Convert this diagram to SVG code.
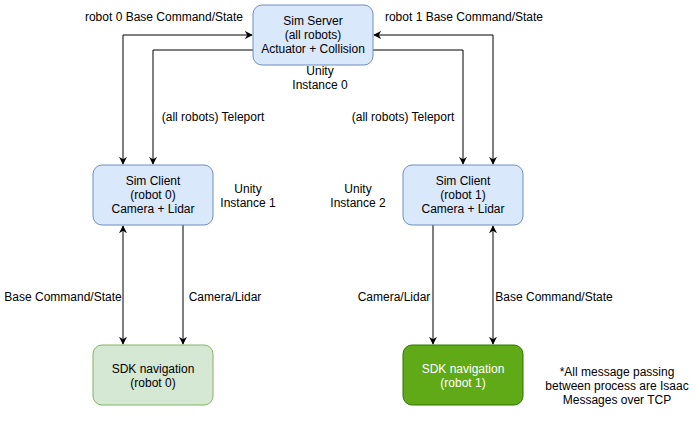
<svg xmlns="http://www.w3.org/2000/svg" width="699" height="421" viewBox="0 0 699 421">
<style>
text{font-family:"Liberation Sans",Arial,sans-serif;font-size:12px;fill:#000;text-anchor:middle}
.blue{fill:#dae8fc;stroke:#6c8ebf;stroke-width:1}
.green{fill:#d5e8d4;stroke:#82b366;stroke-width:1}
.dg{fill:#60a917;stroke:#2d7600;stroke-width:1}
.w{fill:#ffffff}
.c{fill:none;stroke:#000;stroke-width:1}
</style>
<defs>
<marker id="a" viewBox="0 0 10 10" refX="9" refY="5" markerWidth="8" markerHeight="8" orient="auto-start-reverse" markerUnits="userSpaceOnUse">
<path d="M0,0 L10,5 L0,10 L3,5 Z" fill="#000"/>
</marker>
</defs>
<rect width="699" height="421" fill="#fff"/>
<g id="connectors">
<path class="c" d="M123,164 V35 H252" marker-start="url(#a)" marker-end="url(#a)"/>
<path class="c" d="M253,50 H153 V164" marker-end="url(#a)"/>
<path class="c" d="M493,164 V35 H374" marker-start="url(#a)" marker-end="url(#a)"/>
<path class="c" d="M373,50 H463 V164" marker-end="url(#a)"/>
<path class="c" d="M123,226 V344" marker-start="url(#a)" marker-end="url(#a)"/>
<path class="c" d="M183,225 V344" marker-end="url(#a)"/>
<path class="c" d="M433,225 V344" marker-end="url(#a)"/>
<path class="c" d="M493,226 V344" marker-start="url(#a)" marker-end="url(#a)"/>
</g>
<g id="labels">
<text x="164" y="21">robot 0 Base Command/State</text>
<text x="464" y="21">robot 1 Base Command/State</text>
<text x="320" y="75">Unity</text>
<text x="320" y="89">Instance 0</text>
<text x="213" y="121">(all robots) Teleport</text>
<text x="403" y="121">(all robots) Teleport</text>
<text x="248" y="193">Unity</text>
<text x="248" y="207">Instance 1</text>
<text x="358" y="193">Unity</text>
<text x="358" y="207">Instance 2</text>
<text x="63" y="301">Base Command/State</text>
<text x="225" y="301">Camera/Lidar</text>
<text x="394" y="301">Camera/Lidar</text>
<text x="554" y="301">Base Command/State</text>
<text x="617" y="376">*All message passing</text>
<text x="617" y="390">between process are Isaac</text>
<text x="617" y="404">Messages over TCP</text>
</g>
<g id="sim-server">
<rect class="blue" x="253" y="5" width="120" height="60" rx="9"/>
<text x="313" y="25">Sim Server</text>
<text x="313" y="39">(all robots)</text>
<text x="313" y="53">Actuator + Collision</text>
</g>
<g id="sim-client-0">
<rect class="blue" x="93" y="165" width="120" height="60" rx="9"/>
<text x="153" y="185">Sim Client</text>
<text x="153" y="199">(robot 0)</text>
<text x="153" y="213">Camera + Lidar</text>
</g>
<g id="sim-client-1">
<rect class="blue" x="403" y="165" width="120" height="60" rx="9"/>
<text x="463" y="185">Sim Client</text>
<text x="463" y="199">(robot 1)</text>
<text x="463" y="213">Camera + Lidar</text>
</g>
<g id="sdk-nav-0">
<rect class="green" x="93" y="345" width="120" height="60" rx="9"/>
<text x="153" y="373">SDK navigation</text>
<text x="153" y="387">(robot 0)</text>
</g>
<g id="sdk-nav-1">
<rect class="dg" x="403" y="345" width="120" height="60" rx="9"/>
<text class="w" x="463" y="373">SDK navigation</text>
<text class="w" x="463" y="387">(robot 1)</text>
</g>
</svg>
